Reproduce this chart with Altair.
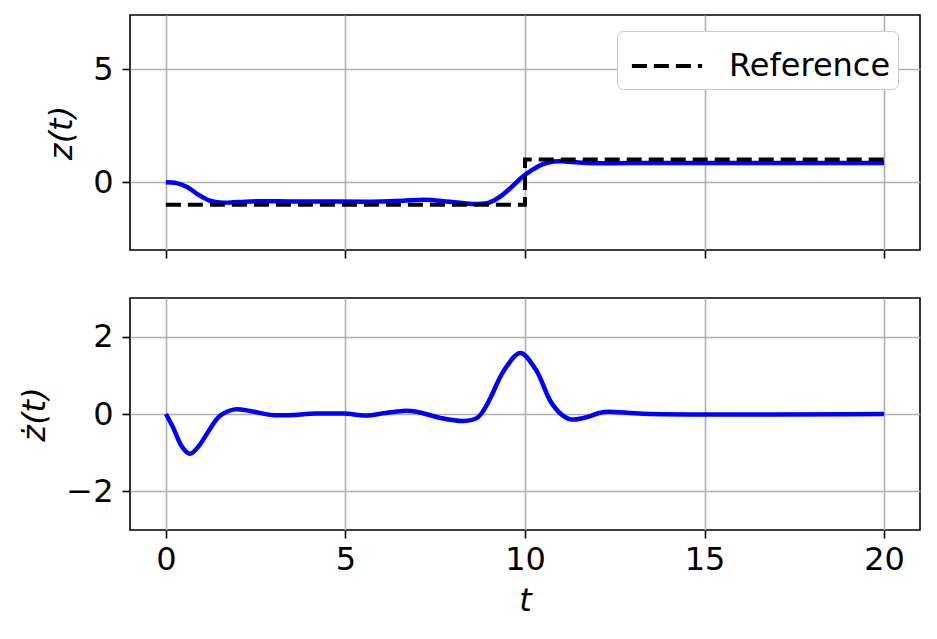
import altair as alt
import pandas as pd

# z(t) trajectory
z_t = [0, 0.3, 0.6, 0.9, 1.2, 1.5, 1.8, 2.2, 2.6, 3.5, 4.5, 5.5, 6.0, 6.6, 7.2, 7.8, 8.3, 8.7, 9.0, 9.3, 9.6, 9.9, 10.2, 10.5, 10.8, 11.1, 11.5, 12.0, 13.0, 20.0]
z_v = [0, -0.04, -0.22, -0.55, -0.8, -0.9, -0.9, -0.86, -0.84, -0.85, -0.85, -0.86, -0.85, -0.82, -0.78, -0.85, -0.93, -0.96, -0.9, -0.65, -0.25, 0.2, 0.55, 0.8, 0.92, 0.92, 0.87, 0.84, 0.85, 0.85]

# reference step
ref_t = [0, 10, 10, 20]
ref_v = [-1, -1, 1, 1]

# z-dot(t)
zd_t = [0, 0.2, 0.45, 0.67, 0.9, 1.13, 1.5, 1.92, 2.34, 3.0, 4.2, 4.95, 5.6, 6.06, 6.6, 6.98, 7.64, 8.29, 8.67, 8.85, 9.04, 9.41, 9.87, 10.3, 10.71, 11.0, 11.27, 11.64, 12.2, 12.85, 13.5, 20.0]
zd_v = [0, -0.35, -0.85, -1.03, -0.85, -0.53, -0.05, 0.12, 0.08, -0.03, 0.01, 0.01, -0.04, 0.02, 0.08, 0.06, -0.1, -0.18, -0.1, 0.1, 0.42, 1.12, 1.58, 1.15, 0.33, 0.0, -0.14, -0.1, 0.05, 0.03, 0.0, 0.0]

z_df = pd.DataFrame({"t": z_t, "v": z_v})
ref_df = pd.DataFrame({"t": ref_t, "v": ref_v, "series": ["Reference"] * len(ref_t)})
zd_df = pd.DataFrame({"t": zd_t, "v": zd_v})

FONT = "DejaVu Sans"
FS = 32
W = 790

xscale = alt.Scale(domain=[-1, 21], nice=False, zero=False)

def yaxis(title, values):
    return alt.Axis(title=title, values=values, titleFontStyle="italic", titleFontWeight="normal",
                    titleFont=FONT, titleFontSize=FS, titlePadding=14)

legend = alt.Legend(title=None, orient="none", legendX=487, legendY=16, padding=7,
                    symbolOffset=15)

top_ref = alt.Chart(ref_df).mark_line(strokeWidth=4, clip=True).encode(
    x=alt.X("t:Q", scale=xscale, axis=alt.Axis(values=[0, 5, 10, 15, 20], labels=False, title=None)),
    y=alt.Y("v:Q", scale=alt.Scale(domain=[-3, 7.4], nice=False, zero=False), axis=yaxis("z(t)", [0, 5])),
    color=alt.Color("series:N", scale=alt.Scale(domain=["Reference"], range=["black"]), legend=legend),
    strokeDash=alt.StrokeDash("series:N", scale=alt.Scale(domain=["Reference"], range=[[15, 7]]), legend=legend),
)
top_z = alt.Chart(z_df).mark_line(color="#0000ff", strokeWidth=4.5, interpolate="catmull-rom", clip=True).encode(
    x=alt.X("t:Q", scale=xscale),
    y=alt.Y("v:Q"),
)
top = alt.layer(top_z, top_ref).properties(width=W, height=235)

bottom = alt.Chart(zd_df).mark_line(color="#0000ff", strokeWidth=4.5, interpolate="catmull-rom", clip=True).encode(
    x=alt.X("t:Q", scale=xscale, axis=alt.Axis(values=[0, 5, 10, 15, 20], title="t",
                                               titleFontStyle="italic", titleFontWeight="normal",
                                               titleFont=FONT, titleFontSize=FS, titlePadding=10)),
    y=alt.Y("v:Q", scale=alt.Scale(domain=[-3, 3], nice=False, zero=False), axis=yaxis("ż(t)", [-2, 0, 2])),
).properties(width=W, height=232)

chart = alt.vconcat(top, bottom, spacing=37).properties(
    padding={"left": 10, "top": 6, "right": 5, "bottom": 5}
).configure_view(
    stroke="black", strokeWidth=1.6
).configure_axis(
    domain=False, grid=True, gridColor="#b0b0b0", gridWidth=1.6,
    tickColor="black", tickSize=8, tickWidth=1.6,
    labelFont=FONT, labelFontSize=FS, labelColor="black", labelPadding=6,
    titleColor="black", labelFlush=False
).configure_axisY(labelPadding=9).configure_legend(
    fillColor="white", strokeColor="#cccccc", cornerRadius=6,
    labelFont=FONT, labelFontSize=FS, labelColor="black", symbolType="M-1.35,0H1.35",
    symbolSize=2704, symbolStrokeWidth=4, labelOffset=34, labelLimit=400
)

chart.save("out.html", embed_options={"renderer": "svg", "actions": False})
